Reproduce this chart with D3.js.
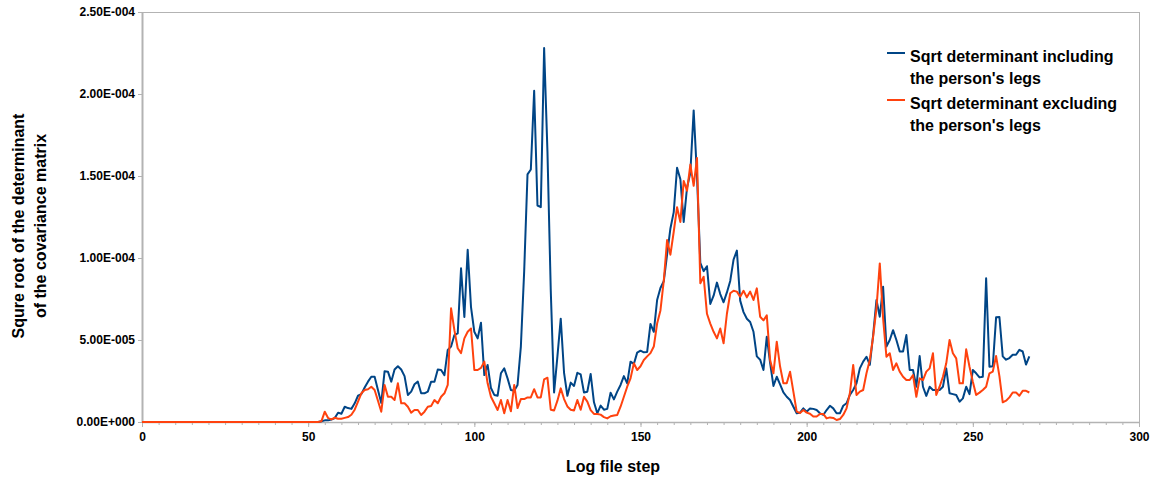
<!DOCTYPE html>
<html>
<head>
<meta charset="utf-8">
<script src="https://cdn.jsdelivr.net/npm/d3@7"></script>
<style>
  html, body { margin: 0; padding: 0; background: #ffffff; }
  svg { display: block; font-family: "Liberation Sans", Arial, Helvetica, sans-serif; font-weight: bold; }
</style>
</head>
<body>
<svg id="chart" width="1158" height="481"></svg>
<script>
// Log file steps: one sample per step
const steps = d3.range(0, 268);

// Square root of the covariance determinant, in units of 1e-6
const includingLegs = [
  0,0,0,0,0,0,0,0,0,0, 0,0,0,0,0,0,0,0,0,0, 0,0,0,0,0,0,0,0,0,0,
  0,0,0,0,0,0,0,0,0,0, 0,0,0,0,0,0,0,0,0,0, 0,0,0,0,
  0.5,1,1,1.5,2.4,5.7,5,9.3,8.5,8,                    // 54-63
  11.4,16,17,21,24.6,27.6,27.6,19.5,11.6,31,          // 64-73
  30.7,24.6,32,34,32,28,16.5,18.5,23,24.6,            // 74-83
  17.5,17.5,18.5,24.6,24.6,32,31.7,28.6,44,46,        // 84-93
  53,54,93.7,64,105,70,55,51,60.5,28.6,               // 94-103
  34.8,20.7,16.5,16,29.7,32.7,26.6,19.5,19,22.6,      // 104-113
  46,92,151,154,202,132,131,228,165,80,               // 114-123
  18,40,63,30,16,24,22,30,29,18,                      // 124-133
  18.5,29.3,12,5.3,10,7.5,8,17.9,13.8,18.5,           // 134-143
  22.6,28,23.6,36.8,35.4,42.3,43.5,42.5,42.7,59.8,    // 144-153
  55,74.4,81.7,85.8,102,118,128,155,148,122,          // 154-163
  143,152,190,150,97,92,95,72,77,85,                  // 164-173
  78,73,79,86,99,104.5,74,67,63,61,                   // 174-183
  55,40,38,31.7,52,36,22,27.6,23,18,                  // 184-193
  15.4,13.4,9.3,5.3,5.7,8.3,6.3,8.3,8,7.3,            // 194-203
  5.3,4.3,7.3,9.9,8.3,5.3,5.3,9.9,11.4,16.5,          // 204-213
  19.5,23.6,32.7,36.8,39.8,34.8,53,74.4,64.2,82.5,    // 214-223
  46,50,56,50,43,43,53,31.7,31.7,21.5,                // 224-233
  40.2,21.5,15.9,21.5,19.5,19.5,19.5,21.5,32.7,17.5,  // 234-243
  17,16.5,12.4,14.4,21.5,17,31.7,29.7,27.2,27.6,      // 244-253
  87.6,33.7,34,63.8,64,40,38,39,41,41,                // 254-263
  44,43,35,40                                         // 264-267
];

const excludingLegs = [
  0,0,0,0,0,0,0,0,0,0, 0,0,0,0,0,0,0,0,0,0, 0,0,0,0,0,0,0,0,0,0,
  0,0,0,0,0,0,0,0,0,0, 0,0,0,0,0,0,0,0,0,0, 0,0,0,0,
  0.5,6.3,2.4,1.6,2.6,2,2,2.5,3,4.4,                  // 54-63
  7.5,12.4,17.5,19.5,20,21.5,19.5,13,6.3,22.6,        // 64-73
  15.4,15.4,13.4,23.6,11.4,11.4,9.3,5.7,7.3,7.3,      // 74-83
  4.3,6.3,9.3,9.8,13.4,11.4,15.4,17.5,22.6,69.3,      // 84-93
  56,45,42,51,55,57,31.7,31.7,33,36.8,                // 94-103
  23.6,15.4,11.4,7.3,13.4,5.3,13.4,6.5,22.6,8.5,      // 104-113
  14,14,15,15,20,15,15,26,27,7.5,                     // 114-123
  7,13,20.5,14,9.5,7.5,7,13.4,7.5,15.4,               // 124-133
  12.4,7.3,4.9,4.9,4.5,3,2.2,3.5,4,4.3,               // 134-143
  9.3,15.4,21.5,26.6,35.8,31.7,34,37.8,40,42,         // 144-153
  46,60,68,86,111,102,116,131,122,147,                // 154-163
  141,157,144,161,84.6,88.6,66,60,55,51,              // 164-173
  57,48,66,78.5,80,79.5,76.4,80,76,79.5,              // 174-183
  74.4,81.5,64.2,62,65,37.8,29.7,49,33.8,23.6,        // 184-193
  23.6,30.7,18.5,6.3,5.5,7.3,5.7,5,3.3,3.3,           // 194-203
  4.9,4.9,2.2,2.8,2.5,1.2,1.8,4.3,8.3,17.5,           // 204-213
  34.8,16.5,18.5,19.5,29.7,37.8,52,69.3,96.7,63.2,    // 214-223
  39.8,41.9,31.7,35.8,30.7,27.6,25.6,25.6,28.6,15.4,  // 224-233
  26.6,25.6,30.7,32.7,41.9,16.5,21.5,27.6,35.8,50,    // 234-243
  41.9,38.8,23.6,23.6,44.3,33.7,24.6,16.5,17.9,19.5,  // 244-253
  21.5,29.7,30.7,40.2,28,12,13,15,18,18,              // 254-263
  16,19,19,18                                         // 264-267
];

const seriesNames = [
  ["Sqrt determinant including", "the person's legs"],
  ["Sqrt determinant excluding", "the person's legs"]
];
const seriesColors = ["#004586", "#ff420e"];

const xTicks = [0, 50, 100, 150, 200, 250, 300];
const xMinorTicks = d3.range(0, 301, 5);
const yTicks = [0, 50, 100, 150, 200, 250];
const yTickLabels = ["0.00E+000", "5.00E-005", "1.00E-004", "1.50E-004", "2.00E-004", "2.50E-004"];

const xTitle = "Log file step";
const yTitle = ["Squre root of the determinant", "of the covariance matrix"];

// Plot area
const plotLeft = 142, plotRight = 1139, plotTop = 12, plotBottom = 422;
const axisGrey = "#b3b3b3";

const svg = d3.select("#chart");

const x = d3.scaleLinear().domain([0, 300]).range([plotLeft, plotRight]);
const y = d3.scaleLinear().domain([0, 250]).range([plotBottom, plotTop]);

// Plot wall border (top and right)
svg.append("line").attr("x1", plotLeft).attr("x2", plotRight).attr("y1", plotTop + 0.5).attr("y2", plotTop + 0.5)
  .attr("stroke", axisGrey).attr("stroke-width", 1);
svg.append("line").attr("x1", plotRight + 0.5).attr("x2", plotRight + 0.5).attr("y1", plotTop).attr("y2", plotBottom)
  .attr("stroke", axisGrey).attr("stroke-width", 1);

// X axis: minor ticks, then labelled major ticks
const xMinor = svg.append("g").attr("transform", `translate(0,${plotBottom})`)
  .call(d3.axisBottom(x).tickValues(xMinorTicks).tickSize(3).tickFormat(""));
xMinor.select(".domain").remove();
xMinor.selectAll("line").attr("stroke", axisGrey);

const xAxis = svg.append("g").attr("transform", `translate(0,${plotBottom})`)
  .call(d3.axisBottom(x).tickValues(xTicks).tickSizeInner(5).tickSizeOuter(0).tickPadding(5).tickFormat(d3.format("d")));
xAxis.select(".domain").attr("stroke", axisGrey).attr("stroke-width", 1.5);
xAxis.selectAll("line").attr("stroke", axisGrey);
xAxis.selectAll("text").attr("fill", "#000").style("font-size", "12px").style("font-weight", "bold");

// Y axis
const yAxis = svg.append("g").attr("transform", `translate(${plotLeft},0)`)
  .call(d3.axisLeft(y).tickValues(yTicks).tickSizeInner(4).tickSizeOuter(0).tickPadding(3)
    .tickFormat((d, i) => yTickLabels[i]));
yAxis.select(".domain").attr("stroke", axisGrey).attr("stroke-width", 2);
yAxis.selectAll("line").attr("stroke", axisGrey);
yAxis.selectAll("text").attr("fill", "#000").style("font-size", "12px").style("font-weight", "bold");

// Series lines
const line = d3.line()
  .x((d, i) => x(steps[i]))
  .y(d => y(d));

[includingLegs, excludingLegs].forEach((values, k) => {
  svg.append("path")
    .datum(values)
    .attr("d", line)
    .attr("fill", "none")
    .attr("stroke", seriesColors[k])
    .attr("stroke-width", 2)
    .attr("stroke-linejoin", "round");
});

// Axis titles
svg.append("text")
  .attr("x", 613).attr("y", 472)
  .attr("text-anchor", "middle")
  .style("font-size", "16px")
  .text(xTitle);

yTitle.forEach((t, i) => {
  svg.append("text")
    .attr("transform", `translate(${24 + i * 22},226) rotate(-90)`)
    .attr("text-anchor", "middle")
    .style("font-size", "16px")
    .text(t);
});

// Legend
const legend = svg.append("g");
seriesNames.forEach((lines, k) => {
  const base = 62 + k * 47;
  legend.append("line")
    .attr("x1", 887).attr("x2", 905)
    .attr("y1", base - 9).attr("y2", base - 9)
    .attr("stroke", seriesColors[k]).attr("stroke-width", 2);
  lines.forEach((t, j) => {
    legend.append("text")
      .attr("x", 910).attr("y", base + j * 22)
      .style("font-size", "16px")
      .text(t);
  });
});
</script>
</body>
</html>
